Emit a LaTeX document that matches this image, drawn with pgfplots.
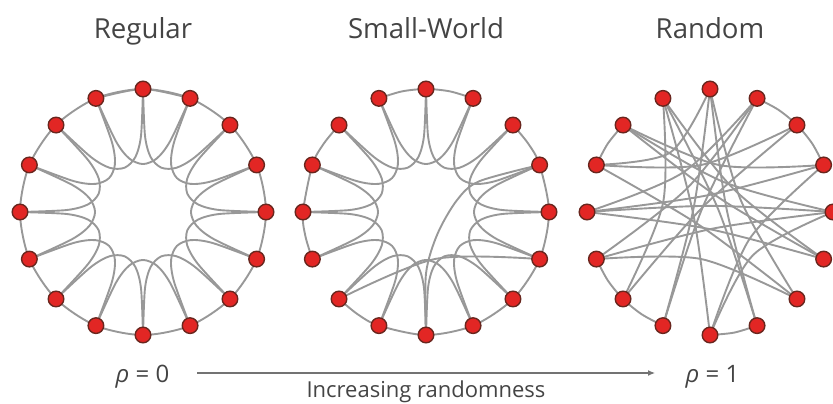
\documentclass[border=0pt]{standalone}
\usepackage{pgfplots}
\pgfplotsset{compat=1.18}
\usepackage{fontspec}
\setmainfont{Open Sans}
\usetikzlibrary{arrows.meta}

\definecolor{nodered}{RGB}{226,38,36}
\definecolor{nodedark}{RGB}{105,38,30}
\definecolor{edgegray}{RGB}{152,152,152}
\definecolor{txtgray}{RGB}{68,68,68}

\pgfplotsset{
  net/.style={hide axis, scale only axis, width=123pt, height=123pt,
    xmin=-1, xmax=1, ymin=-1, ymax=1, clip=false, anchor=south west},
  every axis title/.style={at={(0.5,1)}, anchor=base, yshift=25.5pt,
    font=\fontsize{13.8}{16}\selectfont, text=txtgray},
  edge/.style={draw=edgegray, line width=0.95pt, smooth, mark=none, data cs=polar},
  vert/.style={only marks, mark=*, mark size=3.9pt, data cs=polar,
    mark options={fill=nodered, draw=nodedark, line width=0.7pt}},
}

% 16 vertices on the unit ring, (angle, radius)
\newcommand{\vertices}{%
  \addplot[vert] coordinates {(90,1) (67.5,1) (45,1) (22.5,1) (0,1) (-22.5,1)
    (-45,1) (-67.5,1) (-90,1) (-112.5,1) (-135,1) (-157.5,1) (180,1)
    (157.5,1) (135,1) (112.5,1)};}

% lattice links to the second neighbour, bent towards the centre
\newcommand{\latticeinner}{%
  \addplot[edge] coordinates {(90,1) (88.5,.62) (82,.45) (67.5,.39) (53,.45) (46.5,.62) (45,1)};
  \addplot[edge] coordinates {(67.5,1) (66,.62) (59.5,.45) (45,.39) (30.5,.45) (24,.62) (22.5,1)};
  \addplot[edge] coordinates {(45,1) (43.5,.62) (37,.45) (22.5,.39) (8,.45) (1.5,.62) (0,1)};
  \addplot[edge] coordinates {(22.5,1) (21,.62) (14.5,.45) (0,.39) (-14.5,.45) (-21,.62) (-22.5,1)};
  \addplot[edge] coordinates {(0,1) (-1.5,.62) (-8,.45) (-22.5,.39) (-37,.45) (-43.5,.62) (-45,1)};
  \addplot[edge] coordinates {(-22.5,1) (-24,.62) (-30.5,.45) (-45,.39) (-59.5,.45) (-66,.62) (-67.5,1)};
  \addplot[edge] coordinates {(-45,1) (-46.5,.62) (-53,.45) (-67.5,.39) (-82,.45) (-88.5,.62) (-90,1)};
  \addplot[edge] coordinates {(-67.5,1) (-69,.62) (-75.5,.45) (-90,.39) (-104.5,.45) (-111,.62) (-112.5,1)};
  \addplot[edge] coordinates {(-90,1) (-91.5,.62) (-98,.45) (-112.5,.39) (-127,.45) (-133.5,.62) (-135,1)};
  \addplot[edge] coordinates {(-112.5,1) (-114,.62) (-120.5,.45) (-135,.39) (-149.5,.45) (-156,.62) (-157.5,1)};
  \addplot[edge] coordinates {(-135,1) (-136.5,.62) (-143,.45) (-157.5,.39) (-172,.45) (-178.5,.62) (-180,1)};
  \addplot[edge] coordinates {(-157.5,1) (-159,.62) (-165.5,.45) (-180,.39) (-194.5,.45) (-201,.62) (-202.5,1)};
  \addplot[edge] coordinates {(180,1) (178.5,.62) (172,.45) (157.5,.39) (143,.45) (136.5,.62) (135,1)};
  \addplot[edge] coordinates {(157.5,1) (156,.62) (149.5,.45) (135,.39) (120.5,.45) (114,.62) (112.5,1)};
  \addplot[edge] coordinates {(135,1) (133.5,.62) (127,.45) (112.5,.39) (98,.45) (91.5,.62) (90,1)};
  \addplot[edge] coordinates {(112.5,1) (111,.62) (104.5,.45) (90,.39) (75.5,.45) (69,.62) (67.5,1)};}

\begin{document}
\begin{tikzpicture}
\useasboundingbox (0,0) rectangle (416.5pt,201.5pt);

% ---- regular ring lattice
\begin{axis}[net, at={(10pt,34pt)}, title={Regular}]
  \addplot[edge] coordinates {(112.5,1) (90,1) (67.5,1) (45,1) (22.5,1) (0,1)
    (-22.5,1) (-45,1) (-67.5,1) (-90,1) (-112.5,1) (-135,1) (-157.5,1)
    (-180,1) (-202.5,1) (-225,1) (-247.5,1) (-270,1) (-292.5,1)};
  \latticeinner
  \vertices
\end{axis}

% ---- small world: a few links rewired
\begin{axis}[net, at={(151.5pt,34pt)}, title={Small-World}]
  \addplot[edge] coordinates {(112.5,1) (101.25,1) (90,1) (78.75,1) (67.5,1)};
  \addplot[edge] coordinates {(45,1) (33.75,1) (22.5,1) (0,1) (-22.5,1) (-45,1)
    (-67.5,1) (-90,1) (-112.5,1) (-123.75,1) (-135,1)};
  \addplot[edge] coordinates {(-157.5,1) (-168.75,1) (-180,1) (-202.5,1) (-213.75,1) (-225,1)};
  \latticeinner
  \addplot[edge] coordinates {(-90,1) (-90,.5) (-62,.2) (21,.27) (30,.5) (22.5,1)};
  \addplot[edge] coordinates {(-135,1) (-78.75,.389) (-22.5,1)};
  \vertices
\end{axis}

% ---- random graph
\begin{axis}[net, at={(293.5pt,34pt)}, title={Random}]
  \addplot[edge] coordinates {(157.5,1) (146.25,1) (135,1)};
  \addplot[edge] coordinates {(67.5,1) (56.25,1) (45,1) (33.75,1) (22.5,1)};
  \addplot[edge] coordinates {(-112.5,1) (-123.75,1) (-135,1) (-146.25,1) (-157.5,1)};
  \addplot[edge] coordinates {(-67.5,1) (-78.75,1) (-90,1)};
  \addplot[edge] coordinates {(112.5,1) (22.5,.07) (-67.5,1)};
  \addplot[edge] coordinates {(112.5,1) (45,.268) (-22.5,1)};
  \addplot[edge] coordinates {(112.5,1) (168.75,.389) (225,1)};
  \addplot[edge] coordinates {(112.5,1) (191.25,.137) (270,1)};
  \addplot[edge] coordinates {(90,1) (123.75,.582) (157.5,1)};
  \addplot[edge] coordinates {(90,1) (168.75,.137) (247.5,1)};
  \addplot[edge] coordinates {(90,1) (22.5,.268) (-45,1)};
  \addplot[edge] coordinates {(90,1) (11.25,.137) (-67.5,1)};
  \addplot[edge] coordinates {(67.5,1) (135,.268) (202.5,1)};
  \addplot[edge] coordinates {(67.5,1) (157.5,.07) (247.5,1)};
  \addplot[edge] coordinates {(67.5,1) (123.75,.389) (180,1)};
  \addplot[edge] coordinates {(45,1) (101.25,.389) (157.5,1)};
  \addplot[edge] coordinates {(45,1) (135,.07) (225,1)};
  \addplot[edge] coordinates {(22.5,1) (101.25,.137) (180,1)};
  \addplot[edge] coordinates {(22.5,1) (-33.75,.389) (-90,1)};
  \addplot[edge] coordinates {(22.5,1) (78.75,.389) (135,1)};
  \addplot[edge] coordinates {(0,1) (90,.05) (180,1)};
  \addplot[edge] coordinates {(0,1) (67.5,.268) (135,1)};
  \addplot[edge] coordinates {(0,1) (-78.75,.137) (-157.5,1)};
  \addplot[edge] coordinates {(0,1) (-45,.495) (-90,1)};
  \addplot[edge] coordinates {(-22.5,1) (-101.25,.137) (-180,1)};
  \addplot[edge] coordinates {(-22.5,1) (56.25,.137) (135,1)};
  \addplot[edge] coordinates {(-45,1) (-123.75,.137) (-202.5,1)};
  \addplot[edge] coordinates {(-45,1) (-101.25,.389) (-157.5,1)};
  \vertices
\end{axis}

% ---- rewiring scale
\node[anchor=base, text=txtgray, font=\fontsize{12}{14}\selectfont] at (71.25pt,10.5pt) {\textit{ρ} = 0};
\node[anchor=base, text=txtgray, font=\fontsize{12}{14}\selectfont] at (356.25pt,10.5pt) {\textit{ρ} = 1};
\draw[txtgray!75, line width=0.6pt, -{Latex[length=3.5pt,width=3pt]}] (98.5pt,15pt) -- (327.5pt,15pt);
\node[anchor=base, text=txtgray, font=\fontsize{11}{13}\selectfont] at (213pt,3pt) {Increasing randomness};
\end{tikzpicture}
\end{document}
